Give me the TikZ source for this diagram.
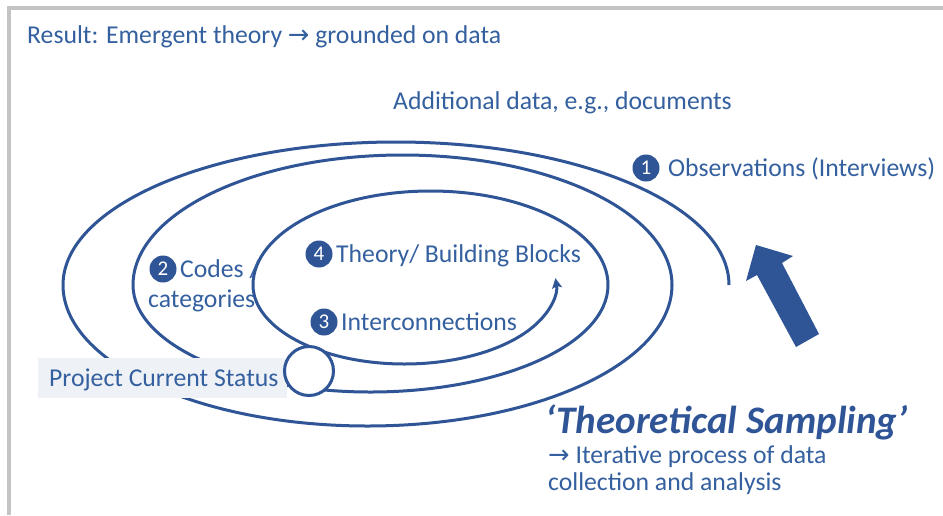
\documentclass[tikz,border=0pt]{standalone}
\usepackage{fontspec}
\setmainfont{Carlito}
\newfontfamily\arrowfont{DejaVu Sans}[Scale=1.0]
\usetikzlibrary{arrows.meta}
\definecolor{dblue}{HTML}{2F5597}
\definecolor{tblue}{HTML}{34609F}
\definecolor{framegray}{HTML}{C4C4C4}
\definecolor{boxfill}{HTML}{EEF1F6}
\begin{document}
\begin{tikzpicture}[x=1pt,y=-1pt,
  txt/.style={font=\fontsize{25.7}{30}\selectfont, text=tblue, inner sep=0pt, anchor=base west},
  badge/.style={circle, fill=dblue, text=white, minimum size=27pt, inner sep=0pt, font=\fontsize{21}{21}\selectfont},
  spiral/.style={draw=dblue, line width=3pt},
  bigarrow/.style={fill=dblue}]
\useasboundingbox (0,0) rectangle (943,515);
\fill[white] (0,0) rectangle (943,515);
\draw[framegray, line width=3.5pt] (9,515) -- (9,8) -- (943,8);

% spiral
\draw[spiral, -{Stealth[length=10pt,width=10pt,inset=2pt]}] (729,285)
  arc[start angle=0,end angle=-180,x radius=333,y radius=143]
  arc[start angle=180,end angle=0,x radius=304.5,y radius=141]
  arc[start angle=0,end angle=-180,x radius=269.5,y radius=130]
  arc[start angle=180,end angle=0,x radius=237.5,y radius=107]
  arc[start angle=0,end angle=-180,x radius=177.5,y radius=94]
  arc[start angle=180,end angle=-5,x radius=151.5,y radius=79];

% big arrow
\fill[bigarrow] (756,245) -- (793,256) -- (782,263) -- (819,334) -- (796,347) -- (757,275) -- (746,281) -- cycle;

% status
\node[fill=boxfill, anchor=north west, inner sep=0pt, minimum width=249pt, minimum height=40pt] (statusbox) at (38,358) {};
\node[txt] (statustext) at (49,386) {Project Current Status};
\node[circle, draw=dblue, fill=white, line width=3pt, minimum size=49pt, inner sep=0pt] (status) at (309,371) {};

% texts
\node[txt] (result) at (27,43) {Result: Emergent theory {\arrowfont →} grounded on data};
\node[txt] (additional) at (393,109) {Additional data, e.g., documents};
\node[badge] (b1) at (646,168) {1};
\node[txt] (obs) at (668,176) {Observations (Interviews)};
\node[badge] (b2) at (163,269) {2};
\node[txt] (codes) at (180,277) {Codes /};
\node[txt] (cat) at (148,307) {categories};
\node[badge] (b4) at (319,254) {4};
\node[txt] (theory) at (336,262) {Theory/ Building Blocks};
\node[badge] (b3) at (324,322) {3};
\node[txt] (inter) at (341,330) {Interconnections};
\node[txt, font=\bfseries\itshape\fontsize{39}{42}\selectfont, text=dblue] (ts) at (545,433) {‘Theoretical Sampling’};
\node[txt] (it1) at (548,463) {{\arrowfont →} Iterative process of data};
\node[txt] (it2) at (548,490) {collection and analysis};
\end{tikzpicture}
\end{document}
